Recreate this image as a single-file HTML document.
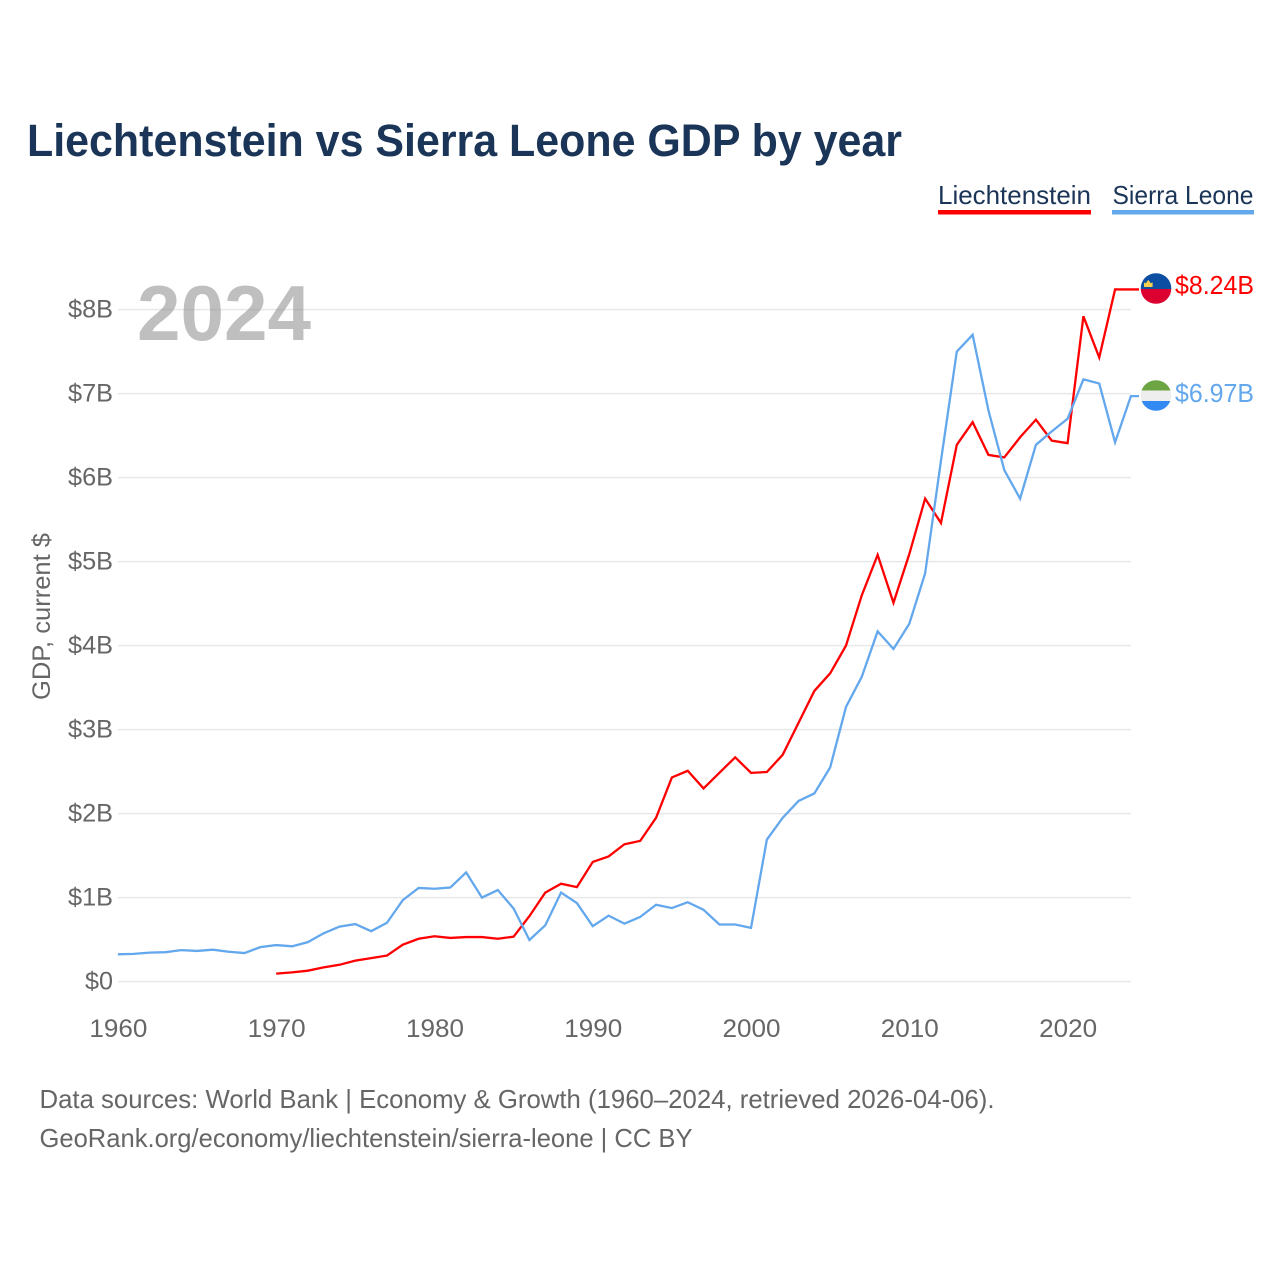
<!DOCTYPE html>
<html lang="en">
<head>
<meta charset="utf-8">
<title>Liechtenstein vs Sierra Leone GDP by year</title>
<style>
html,body{margin:0;padding:0;background:#fff;width:1280px;height:1280px;overflow:hidden}
svg{display:block;font-family:"Liberation Sans",sans-serif}
</style>
</head>
<body>
<svg id="chart" xmlns="http://www.w3.org/2000/svg" width="1280" height="1280" viewBox="0 0 1280 1280">
  <text x="27" y="156" font-size="45" font-weight="700" fill="#1a3557" textLength="875" lengthAdjust="spacingAndGlyphs">Liechtenstein vs Sierra Leone GDP by year</text>

  <g>
    <g>
      <text x="938" y="204" font-size="26" fill="#1a3557" textLength="153" lengthAdjust="spacingAndGlyphs">Liechtenstein</text>
      <rect x="938" y="210" width="153" height="4.5" fill="#ff0000"/>
    </g>
    <g>
      <text x="1112.5" y="204" font-size="26" fill="#1a3557" textLength="141" lengthAdjust="spacingAndGlyphs">Sierra Leone</text>
      <rect x="1112" y="210" width="142" height="4.5" fill="#63a7ed"/>
    </g>
  </g>

  <g id="grid"></g>
  <text x="137" y="340" font-size="78" font-weight="700" fill="#808080" fill-opacity="0.5" textLength="174" lengthAdjust="spacingAndGlyphs">2024</text>
  <g id="yticks"></g>
  <g id="xticks"></g>
  <text transform="translate(50,700) rotate(-90)" font-size="25" fill="#666666" textLength="167" lengthAdjust="spacingAndGlyphs">GDP, current $</text>
  <g id="series"></g>

  <defs>
    <clipPath id="flag-clip-li"><circle cx="1156" cy="288.5" r="15.3"/></clipPath>
    <clipPath id="flag-clip-sl"><circle cx="1156" cy="395.5" r="15.3"/></clipPath>
  </defs>
  <g clip-path="url(#flag-clip-li)">
    <rect x="1140" y="273" width="32" height="16" fill="#0b4ea2"/>
    <rect x="1140" y="289" width="32" height="16" fill="#dc0030"/>
    <path d="M1144 287v-4.500l2 .8 1-1.800 1.300-1.500 1.300 1.500 1 1.800 2-.8v4.500z" fill="#f6d04d"/>
  </g>
  <g clip-path="url(#flag-clip-sl)">
    <rect x="1140" y="380" width="32" height="10.500" fill="#6da544"/>
    <rect x="1140" y="390.500" width="32" height="10.500" fill="#eeeeee"/>
    <rect x="1140" y="401" width="32" height="11" fill="#338af3"/>
  </g>
  <text x="1175" y="294" font-size="26" fill="#ff0000" textLength="79" lengthAdjust="spacingAndGlyphs">$8.24B</text>
  <text x="1175" y="402" font-size="26" fill="#63a7ed" textLength="79" lengthAdjust="spacingAndGlyphs">$6.97B</text>

  <text x="39.500" y="1108" font-size="26" fill="#666666" textLength="955" lengthAdjust="spacingAndGlyphs">Data sources: World Bank | Economy &amp; Growth (1960–2024, retrieved 2026-04-06).</text>
  <text x="39.500" y="1147" font-size="26" fill="#666666" textLength="653" lengthAdjust="spacingAndGlyphs">GeoRank.org/economy/liechtenstein/sierra-leone | CC BY</text>
</svg>
<script>
const yTickValues = [0, 1, 2, 3, 4, 5, 6, 7, 8];
const yTickLabels = ["$0", "$1B", "$2B", "$3B", "$4B", "$5B", "$6B", "$7B", "$8B"];
const xTickYears = [1960, 1970, 1980, 1990, 2000, 2010, 2020];
const sierraLeoneStartYear = 1960;
const sierraLeoneGdp = [0.325,0.33,0.345,0.35,0.375,0.365,0.38,0.355,0.34,0.41,0.435,0.42,0.47,0.575,0.655,0.685,0.60,0.70,0.97,1.115,1.105,1.12,1.30,1.00,1.09,0.87,0.495,0.67,1.06,0.935,0.66,0.785,0.69,0.77,0.915,0.875,0.945,0.855,0.68,0.68,0.64,1.69,1.95,2.15,2.24,2.55,3.27,3.63,4.17,3.96,4.26,4.86,6.2,7.5,7.7,6.8,6.09,5.75,6.39,6.55,6.7,7.17,7.12,6.42,6.97];
const liechtensteinStartYear = 1970;
const liechtensteinGdp = [0.095,0.11,0.13,0.17,0.2,0.25,0.28,0.31,0.44,0.51,0.54,0.52,0.53,0.53,0.51,0.535,0.78,1.06,1.165,1.125,1.425,1.49,1.635,1.675,1.95,2.43,2.51,2.30,2.485,2.67,2.485,2.495,2.7,3.08,3.46,3.67,4.0,4.6,5.08,4.51,5.09,5.75,5.46,6.39,6.66,6.27,6.24,6.48,6.69,6.44,6.41,7.92,7.43,8.24,8.24];

const NS = 'http://www.w3.org/2000/svg';
function xScale(year) { return 117.9 + (year - 1960) * (1130.9 - 117.9) / 64; }
function yScale(value) { return 981.6 - value * 84; }
function make(tag, attrs, parent, text) {
  const el = document.createElementNS(NS, tag);
  for (const k in attrs) el.setAttribute(k, attrs[k]);
  if (text !== undefined) el.textContent = text;
  parent.appendChild(el);
  return el;
}

const gridG = document.getElementById('grid');
const yG = document.getElementById('yticks');
const xG = document.getElementById('xticks');
const seriesG = document.getElementById('series');

yTickValues.forEach(function (v, i) {
  const line = make('line', {x1: 118, x2: 1131, y1: yScale(v), y2: yScale(v), stroke: '#e8e8e8', 'stroke-width': 1.5}, gridG);
  
  
  const label = make('text', {x: 113, y: yScale(v) + 8, 'text-anchor': 'end', 'font-size': 25, fill: '#666666'}, yG, yTickLabels[i]);
  
  
  label.setAttribute('textLength', i === 0 ? 28 : 45);
  label.setAttribute('lengthAdjust', 'spacingAndGlyphs');
});

xTickYears.forEach(function (yr) {
  const label = make('text', {x: xScale(yr) + 0.5, y: 1037, 'text-anchor': 'middle', 'font-size': 25, fill: '#666666'}, xG, String(yr));
  
  
  label.setAttribute('textLength', 58);
  label.setAttribute('lengthAdjust', 'spacingAndGlyphs');
});

function drawSeries(values, startYear, color, flagX) {
  const pts = values.map(function (v, i) {
    return xScale(startYear + i).toFixed(2) + ',' + yScale(v).toFixed(2);
  });
  pts.push(flagX + ',' + yScale(values[values.length - 1]).toFixed(2));
  return make('polyline', {points: pts.join(' '), fill: 'none', stroke: color, 'stroke-width': 2.3, 'stroke-linejoin': 'miter'}, seriesG);
}

const liLine = drawSeries(liechtensteinGdp, liechtensteinStartYear, '#ff0000', 1139);


const slLine = drawSeries(sierraLeoneGdp, sierraLeoneStartYear, '#63a7ed', 1139);


</script>
</body>
</html>
